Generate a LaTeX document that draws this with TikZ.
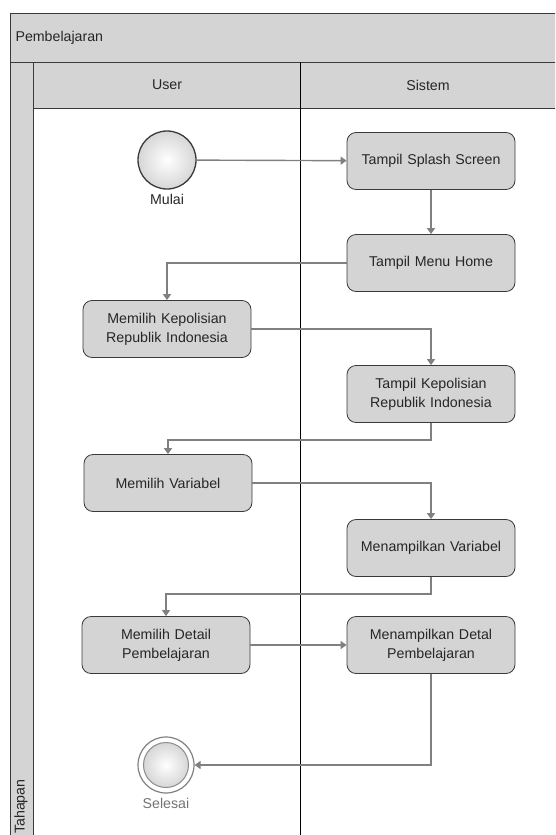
\documentclass[tikz,border=0pt]{standalone}
\usepackage{fontspec}
\setmainfont{Liberation Sans}
\usepackage{xcolor}
\usetikzlibrary{shapes,arrows,arrows.meta,positioning,fit}

\definecolor{boxgray}{HTML}{D4D4D4}
\definecolor{linegray}{HTML}{808080}
\definecolor{framegray}{HTML}{3A3A3A}

\begin{document}
\begin{tikzpicture}[x=1pt, y=-1pt, font=\fontsize{14.2}{19}\selectfont]
    % Define styles
    \tikzstyle{activity} = [rectangle, rounded corners=9pt, draw=framegray, line width=0.8pt, fill=boxgray, text=black!85, text width=160pt, align=center, minimum width=168pt, minimum height=57pt]
    \tikzstyle{startnode} = [circle, draw=framegray, line width=1.3pt, minimum size=58pt, inner color=white, outer color=black!16]
    \tikzstyle{arrow} = [draw=linegray, line width=1.4pt, ->, >={Triangle[length=6pt,width=8pt]}]

    \useasboundingbox (0,0) rectangle (555,835);
    \clip (0,0) rectangle (555,835);

    % Pool and lanes
    \fill[boxgray] (10,13) rectangle (560,62);
    \fill[boxgray] (10,62) rectangle (33,840);
    \fill[boxgray] (33,62) rectangle (560,108);
    \draw[framegray, line width=0.9pt] (10,840) -- (10,13) -- (560,13);
    \draw[framegray, line width=0.9pt] (10,62) -- (560,62);
    \draw[framegray, line width=0.9pt] (33,62) -- (33,840);
    \draw[framegray, line width=0.9pt] (33,108) -- (560,108);
    \draw[black, line width=1pt] (300,62) -- (300,840);

    \node [anchor=west, text=black!85] (pool) at (12,38) {Pembelajaran};
    \node [text=black!85] (user) at (167,85) {User};
    \node [text=black!85] (sistem) at (428,85) {Sistem};
    \node [rotate=90, anchor=west, text=black!85, inner sep=1pt] (tahapan) at (21,835) {Tahapan};

    % Start
    \node [startnode] (mulai) at (167,160) {};
    \node [text=black!85, below=1pt of mulai] (mulailabel) {Mulai};

    % Sistem
    \node [activity] (splash) at (431,161) {Tampil Splash Screen};
    \node [activity] (home) at (431,263) {Tampil Menu Home};
    \node [activity] (tampilpolri) at (431,394) {Tampil Kepolisian\\Republik Indonesia};
    \node [activity] (tampilvar) at (431,548) {Menampilkan Variabel};
    \node [activity] (tampildetail) at (431,645) {Menampilkan Detal\\Pembelajaran};

    % User
    \node [activity] (pilihpolri) at (167,329) {Memilih Kepolisian\\Republik Indonesia};
    \node [activity] (pilihvar) at (168,483) {Memilih Variabel};
    \node [activity] (pilihdetail) at (166,645) {Memilih Detail\\Pembelajaran};

    % End
    \node [circle, draw=linegray, line width=1.2pt, fill=white, minimum size=56pt] (selesai) at (166,765) {};
    \node [circle, draw=black!45, line width=1pt, minimum size=45pt, inner color=white, outer color=black!16] (selesaiin) at (selesai) {};
    \node [text=black!55, below=1pt of selesai] (selesailabel) {Selesai};

    % Arrows
    \draw [arrow] (mulai) -- (splash);
    \draw [arrow] (splash) -- (home);
    \draw [arrow] (home.west) -| (pilihpolri.north);
    \draw [arrow] (pilihpolri.east) -| (tampilpolri.north);
    \draw [arrow] (tampilpolri.south) |- (168,440) -- (pilihvar.north);
    \draw [arrow] (pilihvar.east) -| (tampilvar.north);
    \draw [arrow] (tampilvar.south) |- (166,594) -- (pilihdetail.north);
    \draw [arrow] (pilihdetail) -- (tampildetail);
    \draw [arrow] (tampildetail.south) |- (selesai.east);
\end{tikzpicture}
\end{document}
